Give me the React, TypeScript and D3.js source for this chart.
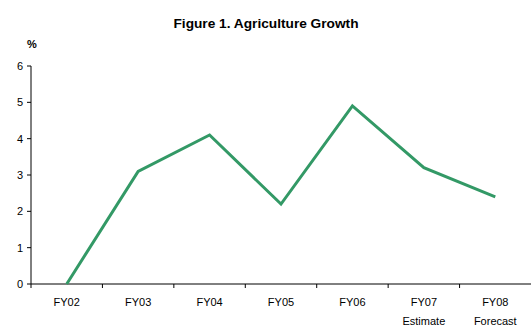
import React from "react";
import * as d3 from "d3";

const categories = ["FY02", "FY03", "FY04", "FY05", "FY06", "FY07", "FY08"];
const subLabels = ["", "", "", "", "", "Estimate", "Forecast"];
const values = [0, 3.1, 4.1, 2.2, 4.9, 3.2, 2.4];
const yTicks = [0, 1, 2, 3, 4, 5, 6];

export default function App() {
  const W = 531, H = 326;
  const left = 31, right = 531, top = 66, bottom = 284;
  const x = d3.scaleBand<string>().domain(categories).range([left, right]).padding(0);
  const y = d3.scaleLinear().domain([0, 6]).range([bottom, top]);
  const line = d3.line<number>()
    .x((_, i) => (x(categories[i]) as number) + x.bandwidth() / 2)
    .y((d) => y(d));
  const font = "Arial, 'Liberation Sans', sans-serif";
  return (
    <svg width={W} height={H} style={{ position: "absolute", left: 0, top: 0, background: "#fff" }} fontFamily={font}>
      <text x={266} y={28} textAnchor="middle" fontSize={13.7} fontWeight="bold">Figure 1. Agriculture Growth</text>
      <text x={27} y={48} fontSize={11} fontWeight="bold">%</text>
      <line x1={left} x2={left} y1={top} y2={bottom} stroke="#000" strokeWidth={1} />
      {yTicks.map((t) => (
        <g key={t}>
          <line x1={left - 4} x2={left} y1={y(t)} y2={y(t)} stroke="#000" />
          <text x={left - 8} y={y(t)} dy="0.35em" textAnchor="end" fontSize={11}>{t}</text>
        </g>
      ))}
      <line x1={left} x2={right} y1={bottom} y2={bottom} stroke="#000" />
      {categories.map((c) => (
        <line key={"t" + c} x1={x(c) as number} x2={x(c) as number} y1={bottom} y2={bottom + 4} stroke="#000" />
      ))}
      {categories.map((c, i) => (
        <g key={c}>
          <text x={(x(c) as number) + x.bandwidth() / 2} y={306} textAnchor="middle" fontSize={11}>{c}</text>
          {subLabels[i] && (
            <text x={(x(c) as number) + x.bandwidth() / 2} y={325} textAnchor="middle" fontSize={11}>{subLabels[i]}</text>
          )}
        </g>
      ))}
      <path d={line(values) || ""} fill="none" stroke="#339966" strokeWidth={3} strokeLinejoin="miter" />
    </svg>
  );
}
